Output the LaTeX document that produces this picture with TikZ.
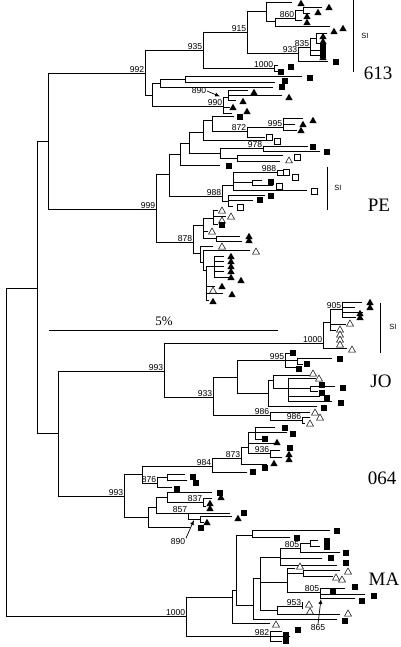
\documentclass[tikz,border=0pt]{standalone}
\usepackage{fontspec}
\setmainfont{Liberation Serif}
\setsansfont{Liberation Sans}
\usetikzlibrary{shapes.geometric,arrows.meta}

\tikzset{
  branch/.style={line width=0.75pt,line cap=rect},
  ftri/.style={regular polygon,regular polygon sides=3,fill=black,inner sep=0pt,minimum size=8.5pt},
  otri/.style={regular polygon,regular polygon sides=3,draw=black,fill=white,line width=0.5pt,inner sep=0pt,minimum size=8pt},
  fsq/.style={rectangle,fill=black,inner sep=0pt,minimum size=6.8pt},
  osq/.style={rectangle,draw=black,fill=white,line width=0.5pt,inner sep=0pt,minimum size=6.3pt},
  boot/.style={font=\sffamily\fontsize{8.6}{9}\selectfont,inner sep=0.6pt,anchor=south east},
  clade/.style={font=\fontsize{19}{19}\selectfont,inner sep=0pt},
  silab/.style={font=\sffamily\fontsize{7.5}{8}\selectfont,inner sep=0pt},
  pointer/.style={line width=0.7pt,-{Latex[length=5pt,width=4pt]}},
}

\begin{document}
\begin{tikzpicture}[x=1pt,y=-1pt]
  \useasboundingbox (0,0) rectangle (400,647);

  % horizontal branches: x1/x2/y
  \foreach \xa/\xb/\y in {6/37/288, 6/186/616, 37/48/141, 37/58/433, 48/145/73, 48/156/209,
    145/203/50, 203/247/32, 203/274/68, 247/266/11, 247/298/53, 266/292/2, 266/275/21,
    275/295/18, 275/330/26, 295/303/10, 295/302/20, 303/322/7, 303/310/13, 298/310/47,
    298/328/61, 310/316/38, 310/320/50, 310/322/55, 316/327/33, 316/321/43, 274/278/65,
    274/282/71, 145/152/95, 152/160/83, 160/185/79, 185/302/76, 185/275/82, 160/273/87,
    152/223/106, 223/228/97, 228/248/90, 228/282/95, 228/236/100, 223/230/107, 223/232/113,
    156/169/174, 169/180/154, 169/222/196, 180/189/143, 180/220/165, 189/203/132,
    203/212/120, 212/234/116, 212/247/131, 247/283/127, 283/303/118, 283/295/124,
    283/297/130, 247/265/137, 203/272/140, 189/220/153, 220/263/148, 263/308/146,
    263/320/151, 220/237/158, 237/283/155, 237/280/161, 222/233/185, 233/277/172,
    277/283/170, 277/290/175, 233/252/182, 252/262/180, 252/273/185, 233/307/190,
    222/228/201, 228/265/195, 228/253/200, 228/233/206,
    156/193/242, 193/203/225, 203/213/218, 213/218/210, 213/226/216, 213/218/224,
    203/208/231, 203/216/238, 216/240/236, 216/242/241, 193/200/253, 200/213/246,
    200/203/262, 203/250/250, 203/206/270, 206/214/266, 214/224/256, 214/224/261,
    214/224/266, 214/224/271, 214/230/277, 206/215/286, 206/223/293, 206/209/300,
    58/164/371, 58/124/496, 164/323/343, 323/330/322, 330/342/309, 342/362/302,
    342/355/307, 342/363/312, 342/356/317, 330/346/324, 330/336/330, 323/347/348,
    164/213/397, 213/237/377, 237/285/360, 285/290/353, 285/297/360, 297/332/358,
    297/303/364, 285/296/367, 237/268/393, 268/273/380, 273/310/375, 273/288/388,
    288/316/378, 288/310/388, 310/335/386, 310/318/391, 288/320/396, 288/332/401,
    268/317/406, 213/270/415, 270/310/412, 270/302/420, 302/310/417, 302/305/423,
    124/142/474, 124/148/517, 142/212/466, 142/157/483, 157/167/477, 167/185/474,
    167/187/480, 157/172/487, 212/241/458, 241/248/447, 248/255/432, 255/275/427,
    255/287/432, 255/262/439, 248/275/443, 248/270/453, 270/280/450, 270/282/457,
    241/267/464, 212/247/472, 148/156/507, 156/167/497, 167/212/492, 167/203/502,
    203/212/498, 203/206/506, 156/188/513, 188/230/513, 188/200/519, 200/232/516,
    200/204/522, 148/190/527,
    186/232/597, 232/236/590, 232/270/623, 236/252/535, 252/330/530, 252/290/537,
    236/253/605, 253/260/578, 253/337/619, 260/280/557, 280/300/548, 300/310/543,
    310/318/540, 310/320/546, 300/340/552, 280/322/558, 280/337/565, 260/287/582,
    287/295/568, 287/303/573, 303/340/570, 303/333/576, 287/320/592, 320/345/588,
    320/365/594, 320/355/598, 260/277/610, 277/302/606, 277/340/614, 186/270/636,
    270/282/631, 270/290/636, 270/282/641}
    \draw[branch] (\xa,\y) -- (\xb,\y);

  % vertical branches: x/y1/y2
  \foreach \x/\ya/\yb in {6/288/616, 37/141/433, 48/73/209,
    145/50/95, 203/32/68, 247/11/53, 266/2/21, 275/18/26, 295/10/20, 303/7/13, 298/47/61,
    310/38/55, 316/33/43, 274/65/71, 152/83/106, 160/79/87, 185/76/82, 223/97/113, 228/90/100,
    156/174/242, 169/154/196, 180/143/165, 189/132/153, 203/120/140, 212/116/131,
    247/127/137, 283/118/130, 220/148/158, 263/146/151, 237/155/161, 222/185/201,
    233/172/190, 277/170/175, 252/180/185, 228/195/206,
    193/225/253, 203/218/238, 213/210/224, 216/236/241, 200/246/262, 203/250/270,
    206/266/300, 214/256/277,
    58/371/496, 164/343/397, 323/322/348, 330/309/330, 342/302/317, 213/377/415,
    237/360/393, 285/353/367, 297/358/364, 268/380/406, 273/375/388, 288/378/401,
    310/386/391, 270/412/420, 302/417/423,
    124/474/517, 142/466/483, 157/477/487, 167/474/480, 212/458/472, 241/447/464,
    248/432/453, 255/427/439, 270/450/457, 148/507/527, 156/497/513, 167/492/502,
    203/498/506, 188/513/519, 200/516/522,
    186/597/636, 232/590/623, 236/535/605, 252/530/537, 253/578/619, 260/557/610,
    280/548/565, 300/543/552, 310/540/546, 287/568/592, 303/570/576, 320/588/598,
    277/606/614, 302/602/609, 270/631/641}
    \draw[branch] (\x,\ya) -- (\x,\yb);

  % bootstrap values
  \foreach \x/\y/\t [count=\i] in {145/73/992, 203/50/935, 247/32/915, 274/68/1000,
    295/18/860, 310/47/835, 298/53/933, 223/106/990, 156/209/999, 247/131/872,
    283/127/995, 263/148/978, 277/172/988, 222/196/988, 193/242/878, 164/371/993,
    323/343/1000, 342/309/905, 285/360/995, 213/397/933, 270/415/986, 302/420/986,
    124/496/993, 212/466/984, 241/458/873, 157/483/876, 270/453/936, 203/502/837,
    188/513/857, 186/616/1000, 300/548/805, 320/592/805, 302/606/953, 270/636/982}
    \node[boot] (bs\i) at (\x,\y) {\t};

  \node[boot,anchor=center] (lab890a) at (199,91) {890};
  \coordinate (node890a) at (220,96.5);
  \draw[pointer] (lab890a.east) -- (node890a);
  \node[boot,anchor=center] (lab890b) at (178,542) {890};
  \coordinate (node890b) at (194,520);
  \draw[pointer] (lab890b.north east) -- (node890b);
  \node[boot,anchor=center] (lab865) at (318,628) {865};
  \coordinate (node865) at (321,599);
  \draw[pointer] (lab865.north) -- (node865);

  % isolates
  \foreach \x/\y [count=\i] in {301/4, 329/8, 318/13, 307/17, 307/23, 334/32, 343/29,
    323/37, 323/42, 323/58, 254/93, 289/98, 243/102, 233/108, 247/112, 313/121, 303/125,
    301/131, 249/237, 249/241, 231/257, 231/262, 231/267, 231/272, 231/278, 241/281,
    222/287, 232/295, 213/302, 370/303, 370/308, 360/314, 360/318, 277/443, 289/455,
    289/460, 274/464, 221/498, 210/504, 210/509, 238/519, 207/523}
    \node[ftri] (ft\i) at (\x,\y) {};
  \foreach \x/\y [count=\i] in {289/161, 222/211, 231/217, 222/221, 212/232, 222/247,
    256/252, 213/291, 350/324, 340/330, 340/335, 340/340, 340/345, 352/350, 313/374,
    319/379, 315/413, 320/418, 310/424, 300/567, 348/572, 336/578, 342/580, 309/605,
    310/612, 348/614, 276/625}
    \node[otri] (ot\i) at (\x,\y) {};
  \foreach \x/\y [count=\i] in {323/47, 323/51, 323/55, 336/62, 291/67, 281/72, 310/78,
    285/81, 282/87, 240/117, 313/147, 327/152, 229/166, 271/182, 271/196, 260/200,
    222/225, 293/353, 340/359, 307/364, 299/369, 322/385, 343/388, 322/393, 327/398,
    341/403, 324/408, 193/477, 196/483, 177/489, 285/428, 293/434, 265/439, 290/448,
    265/468, 253/472, 220/493, 244/513, 201/528, 337/531, 297/538, 327/541, 327/547,
    346/553, 331/558, 346/563, 355/587, 333/591, 374/596, 362/601, 345/621, 298/630,
    286/635, 286/641}
    \node[fsq] (fs\i) at (\x,\y) {};
  \foreach \x/\y [count=\i] in {269/137, 277/141, 297/157, 286/172, 295/177, 279/186,
    314/191, 240/207}
    \node[osq] (os\i) at (\x,\y) {};

  % SI brackets and clade names
  \draw[line width=0.75pt] (353,0) -- (353,72);
  \draw[line width=0.75pt] (327,167) -- (327,210);
  \draw[line width=0.75pt] (380,303) -- (380,353);
  \node[silab] (si613) at (365,36) {SI};
  \node[silab] (sipe) at (338,188) {SI};
  \node[silab] (sijo) at (393,327) {SI};
  \node[clade] (c613) at (378,73) {613};
  \node[clade] (cpe) at (379,205) {PE};
  \node[clade] (cjo) at (381,381) {JO};
  \node[clade] (c064) at (382,478) {064};
  \node[clade] (cma) at (384,579) {MA};

  % scale
  \draw[line width=0.75pt] (49,330) -- (278,330);
  \node[font=\fontsize{13}{13}\selectfont,inner sep=0pt] (scale) at (164,321) {5\%};
\end{tikzpicture}
\end{document}
